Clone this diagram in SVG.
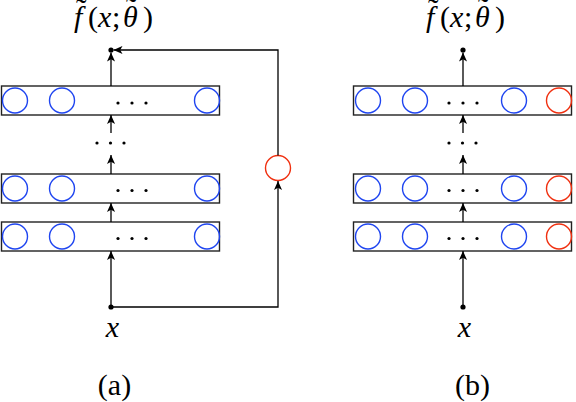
<svg xmlns="http://www.w3.org/2000/svg" width="576" height="402" viewBox="0 0 576 402">
<style>
.box{fill:none;stroke:#222;stroke-width:1.4}
.b{fill:none;stroke:#1f45f0;stroke-width:1.4}
.r{fill:none;stroke:#f03010;stroke-width:1.4}
.ln{fill:none;stroke:#000;stroke-width:1.3}
.d{fill:#000}
.t{font-family:"Liberation Serif","DejaVu Serif",serif;font-size:30px;fill:#000}
.i{font-style:italic}
.tl{font-size:32px}
</style>
<defs>
<marker id="ah" viewBox="0 0 10 10" refX="10" refY="5" markerWidth="9" markerHeight="9" markerUnits="userSpaceOnUse" orient="auto">
<path d="M0,0.5 L10,5 L0,9.5 L2.5,5 z" fill="#000"/>
</marker>
</defs>
<rect width="576" height="402" fill="#fff"/>

<!-- Panel (a) -->
<g id="a-layer-top">
<rect class="box" x="1.5" y="86" width="218" height="29"/>
<circle class="b" cx="15" cy="100.5" r="12.5"/><circle class="b" cx="62" cy="100.5" r="12.5"/><circle class="b" cx="207" cy="100.5" r="12.5"/>
<circle class="d" cx="118" cy="103" r="1.6"/><circle class="d" cx="132" cy="103" r="1.6"/><circle class="d" cx="146" cy="103" r="1.6"/>
</g>
<g id="a-layer-mid">
<rect class="box" x="1.5" y="174" width="218" height="29"/>
<circle class="b" cx="15" cy="188.5" r="12.5"/><circle class="b" cx="62" cy="188.5" r="12.5"/><circle class="b" cx="207" cy="188.5" r="12.5"/>
<circle class="d" cx="118" cy="190.5" r="1.6"/><circle class="d" cx="132" cy="190.5" r="1.6"/><circle class="d" cx="146" cy="190.5" r="1.6"/>
</g>
<g id="a-layer-bot">
<rect class="box" x="1.5" y="222" width="218" height="29"/>
<circle class="b" cx="15" cy="236.5" r="12.5"/><circle class="b" cx="62" cy="236.5" r="12.5"/><circle class="b" cx="207" cy="236.5" r="12.5"/>
<circle class="d" cx="118" cy="238.5" r="1.6"/><circle class="d" cx="132" cy="238.5" r="1.6"/><circle class="d" cx="146" cy="238.5" r="1.6"/>
</g>
<g id="a-vdots">
<circle class="d" cx="97" cy="143" r="1.6"/><circle class="d" cx="110.5" cy="143" r="1.6"/><circle class="d" cx="124" cy="143" r="1.6"/>
</g>
<g id="a-extra">
<circle class="r" cx="278" cy="168" r="12.5"/>
</g>
<g id="a-out"><circle class="d" cx="111" cy="50" r="2.6"/></g>
<g id="a-in"><circle class="d" cx="111" cy="307" r="2.6"/></g>
<g id="a-connectors">
<line class="ln" x1="111" y1="307" x2="111" y2="251" marker-end="url(#ah)"/>
<line class="ln" x1="111" y1="222" x2="111" y2="203" marker-end="url(#ah)"/>
<line class="ln" x1="111" y1="174" x2="111" y2="155" marker-end="url(#ah)"/>
<line class="ln" x1="111" y1="133" x2="111" y2="115" marker-end="url(#ah)"/>
<line class="ln" x1="111" y1="86" x2="111" y2="52.5" marker-end="url(#ah)"/>
<path class="ln" d="M111,307 H278 V181" marker-end="url(#ah)"/>
<path class="ln" d="M278,155.5 V50 H113.5" marker-end="url(#ah)"/>
</g>
<g id="a-labels">
<text class="t" y="27"><tspan class="i" x="74">f</tspan><tspan class="tl" x="76" y="20">˜</tspan><tspan x="88" y="27">(</tspan><tspan class="i" x="98">x</tspan><tspan x="112">;</tspan><tspan class="i" x="123">θ</tspan><tspan class="tl" x="126" y="19">˜</tspan><tspan x="143" y="27">)</tspan></text>
<text class="t i" x="112.5" y="337" text-anchor="middle">x</text>
<text class="t" x="114.5" y="395" text-anchor="middle">(a)</text>
</g>

<!-- Panel (b) -->
<g id="b-layer-top">
<rect class="box" x="353.5" y="86" width="218" height="29"/>
<circle class="b" cx="368" cy="100.5" r="12.5"/><circle class="b" cx="415" cy="100.5" r="12.5"/><circle class="b" cx="514" cy="100.5" r="12.5"/><circle class="r" cx="559" cy="100.5" r="12.5"/>
<circle class="d" cx="449" cy="103" r="1.6"/><circle class="d" cx="463" cy="103" r="1.6"/><circle class="d" cx="477" cy="103" r="1.6"/>
</g>
<g id="b-layer-mid">
<rect class="box" x="353.5" y="174" width="218" height="29"/>
<circle class="b" cx="368" cy="188.5" r="12.5"/><circle class="b" cx="415" cy="188.5" r="12.5"/><circle class="b" cx="514" cy="188.5" r="12.5"/><circle class="r" cx="559" cy="188.5" r="12.5"/>
<circle class="d" cx="449" cy="190.5" r="1.6"/><circle class="d" cx="463" cy="190.5" r="1.6"/><circle class="d" cx="477" cy="190.5" r="1.6"/>
</g>
<g id="b-layer-bot">
<rect class="box" x="353.5" y="222" width="218" height="29"/>
<circle class="b" cx="368" cy="236.5" r="12.5"/><circle class="b" cx="415" cy="236.5" r="12.5"/><circle class="b" cx="514" cy="236.5" r="12.5"/><circle class="r" cx="559" cy="236.5" r="12.5"/>
<circle class="d" cx="449" cy="238.5" r="1.6"/><circle class="d" cx="463" cy="238.5" r="1.6"/><circle class="d" cx="477" cy="238.5" r="1.6"/>
</g>
<g id="b-vdots">
<circle class="d" cx="449" cy="143" r="1.6"/><circle class="d" cx="462.5" cy="143" r="1.6"/><circle class="d" cx="476" cy="143" r="1.6"/>
</g>
<g id="b-out"><circle class="d" cx="463" cy="50" r="2.6"/></g>
<g id="b-in"><circle class="d" cx="463" cy="307" r="2.6"/></g>
<g id="b-connectors">
<line class="ln" x1="463" y1="307" x2="463" y2="251" marker-end="url(#ah)"/>
<line class="ln" x1="463" y1="222" x2="463" y2="203" marker-end="url(#ah)"/>
<line class="ln" x1="463" y1="174" x2="463" y2="155" marker-end="url(#ah)"/>
<line class="ln" x1="463" y1="133" x2="463" y2="115" marker-end="url(#ah)"/>
<line class="ln" x1="463" y1="86" x2="463" y2="52.5" marker-end="url(#ah)"/>
</g>
<g id="b-labels">
<text class="t" y="27"><tspan class="i" x="426">f</tspan><tspan class="tl" x="428" y="20">˜</tspan><tspan x="440" y="27">(</tspan><tspan class="i" x="450">x</tspan><tspan x="464">;</tspan><tspan class="i" x="475">θ</tspan><tspan class="tl" x="478" y="19">˜</tspan><tspan x="495" y="27">)</tspan></text>
<text class="t i" x="464.5" y="337" text-anchor="middle">x</text>
<text class="t" x="472.5" y="395" text-anchor="middle">(b)</text>
</g>
</svg>
